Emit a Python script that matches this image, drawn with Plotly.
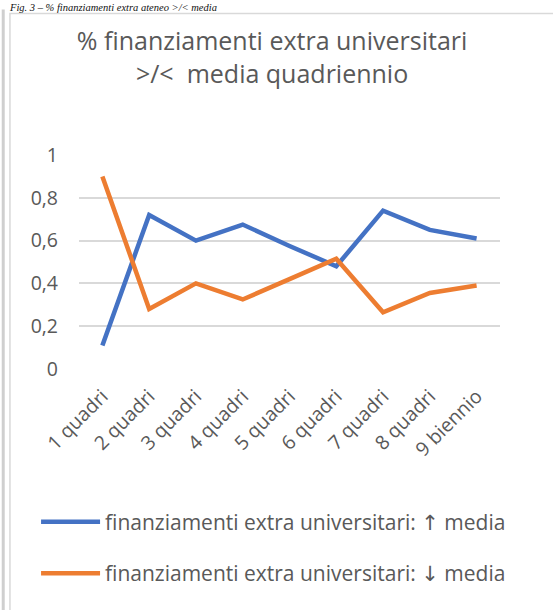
import plotly.graph_objects as go

categories = ['1 quadri', '2 quadri', '3 quadri', '4 quadri', '5 quadri',
              '6 quadri', '7 quadri', '8 quadri', '9 biennio']
sopra_media = [0.11, 0.72, 0.60, 0.675, 0.575, 0.48, 0.74, 0.65, 0.61]
sotto_media = [0.90, 0.28, 0.40, 0.325, 0.42, 0.515, 0.265, 0.355, 0.39]

GREY = '#595959'
FONT = 'Open Sans'
ARROW = '<span style="font-family:DejaVu Sans">{}</span>'

fig = go.Figure()

fig.add_trace(go.Scatter(
    x=categories, y=sopra_media, mode='lines',
    name='finanziamenti extra universitari: ' + ARROW.format('\u2191') + ' media',
    legendgroup='a',
    line=dict(color='#4472C4', width=4.5)
))
fig.add_trace(go.Scatter(
    x=categories, y=sotto_media, mode='lines',
    name='finanziamenti extra universitari: ' + ARROW.format('\u2193') + ' media',
    legendgroup='b',
    line=dict(color='#ED7D31', width=4.5)
))

# chart frame + page edge
fig.add_shape(type='rect', xref='paper', yref='paper',
              x0=-0.164, x1=1.15, y0=-1.18, y1=1.661,
              line=dict(color='#D9D9D9', width=1.5), layer='below')
fig.add_shape(type='line', xref='paper', yref='paper',
              x0=-0.18, x1=-0.18, y0=-1.18, y1=1.68,
              line=dict(color='#CFCFCF', width=3))

# caption above the chart
fig.add_annotation(
    text='Fig. 3 \u2013 % finanziamenti extra ateneo &gt;/&lt; media',
    xref='paper', yref='paper', x=-0.17, y=1.722,
    xanchor='left', yanchor='top', showarrow=False,
    font=dict(family='Liberation Serif', size=10.5, color='#111111', style='italic')
)

fig.update_layout(
    width=553, height=610,
    margin=dict(l=79, r=53, t=155, b=241, autoexpand=False),
    paper_bgcolor='white', plot_bgcolor='white',
    separators=',.',
    title=dict(
        text='% finanziamenti extra universitari<br>&gt;/&lt;  media quadriennio',
        x=0.492, xanchor='center', xref='container',
        y=0.918, yanchor='top', yref='container',
        font=dict(family=FONT, size=25, color=GREY)
    ),
    xaxis=dict(
        type='category', range=[-0.5, 8.5], tickangle=-45,
        showgrid=False, showline=False, zeroline=False,
        ticklabelstandoff=11,
        tickfont=dict(family=FONT, size=19.5, color=GREY)
    ),
    yaxis=dict(
        range=[0, 1], dtick=0.2, showgrid=True,
        gridcolor='#D9D9D9', gridwidth=1.5,
        zeroline=False, showline=False,
        ticklabelstandoff=20,
        tickfont=dict(family=FONT, size=19.5, color=GREY)
    ),
    legend=dict(
        x=-0.102, y=-0.62, xanchor='left', yanchor='top',
        tracegroupgap=21, itemwidth=59,
        font=dict(family=FONT, size=21, color=GREY)
    )
)

fig.write_html("out.html", config={'displayModeBar': False},
               post_script="document.body.style.margin='0';")
